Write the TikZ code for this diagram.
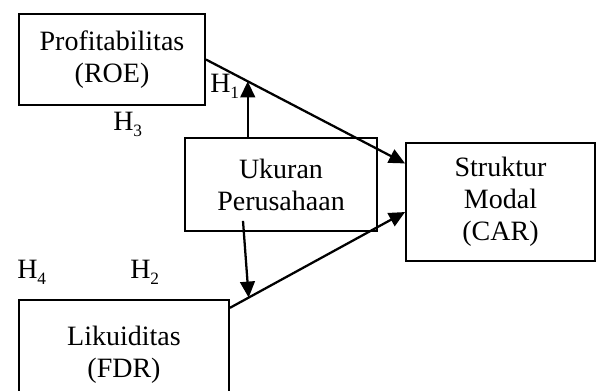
\documentclass[tikz,border=0pt]{standalone}
\usepackage{fontspec}
\setmainfont{Liberation Serif}
\usetikzlibrary{arrows.meta,calc}
\newcommand{\Hsub}[1]{H\raisebox{-5pt}{\fontsize{13}{13}\selectfont #1}}

\begin{document}
\begin{tikzpicture}[x=0.75pt,y=-0.75pt,
  box/.style={draw,line width=1.4pt,align=center,inner sep=0pt,font=\fontsize{21}{24}\selectfont},
  arr/.style={line width=1.7pt,-{Triangle[length=12pt,width=11pt]}},
  hyp/.style={anchor=base west,inner sep=0pt,font=\fontsize{21}{24}\selectfont}]
  \useasboundingbox (0,0) rectangle (596,390);
  \clip (0,0) rectangle (596,390);
  \node[box,minimum width=139.5pt,minimum height=68.25pt] (prof) at (112,59.5) {Profitabilitas\\(ROE)};
  \node[box,minimum width=144pt,minimum height=69.75pt] (uk) at (281,184.5) {Ukuran\\Perusahaan};
  \node[box,minimum width=141.75pt,minimum height=88.5pt] (str) at (500.5,202) {Struktur\\Modal\\(CAR)};
  \node[box,minimum width=157.5pt,minimum height=82.5pt] (lik) at (124,355) {Likuiditas\\(FDR)};
  \coordinate (s1) at (str.158.6);
  \coordinate (s2) at (str.186.6);
  \coordinate (l1) at (lik.24);
  \coordinate (h1) at ($(prof.east)!0.21!(s1)$);
  \coordinate (h2) at ($(l1)!0.107!(s2)$);
  \draw[arr] (prof.east) -- (s1);
  \draw[arr] (l1) -- (s2);
  \draw[arr] (uk.north -| h1) -- (h1);
  \draw[arr] ([shift={(-38,-11)}]uk.south) -- (h2);
  \node[hyp] (t1) at (210,92) {\Hsub{1}};
  \node[hyp] (t3) at (113,130) {\Hsub{3}};
  \node[hyp] (t4) at (17,278) {\Hsub{4}};
  \node[hyp] (t2) at (130,278) {\Hsub{2}};
\end{tikzpicture}
\end{document}
